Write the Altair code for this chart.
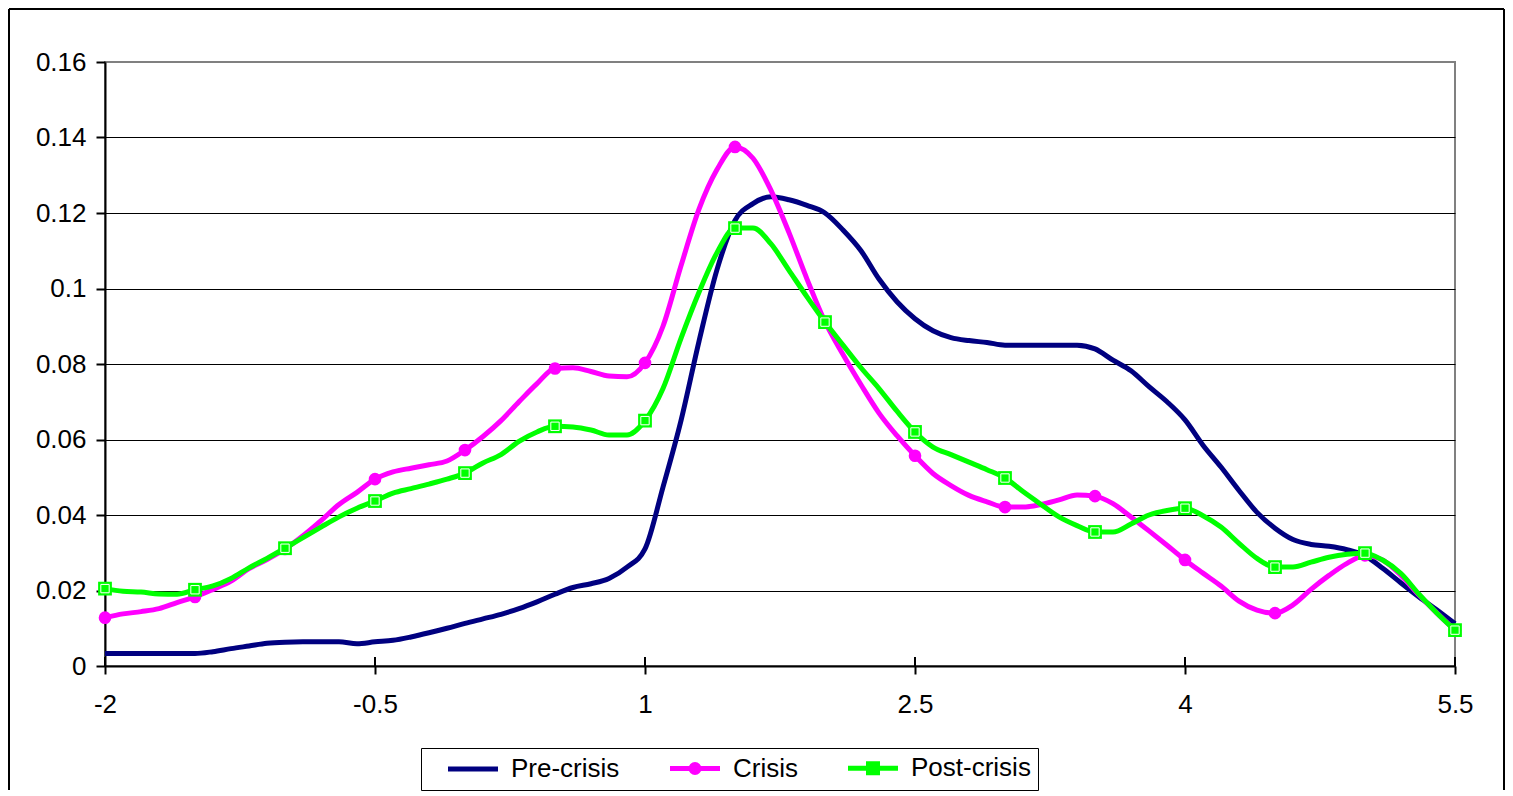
import altair as alt
import pandas as pd
import numpy as np

# sample positions along the x axis (every 0.1 from -2 to 5.5)
x_vals = [round(-2 + 0.1 * i, 1) for i in range(76)]

pre_crisis = [
    0.0033, 0.0033, 0.0033, 0.0033, 0.0033, 0.0033, 0.0038, 0.0046, 0.0053, 0.0060,
    0.0063, 0.0064, 0.0064, 0.0064, 0.0059, 0.0064, 0.0068, 0.0077, 0.0088, 0.0100,
    0.0113, 0.0125, 0.0137, 0.0152, 0.0170, 0.0190, 0.0208, 0.0218, 0.0232, 0.0262,
    0.0310, 0.0474, 0.0650, 0.0860, 0.1050, 0.1180, 0.1225, 0.1243, 0.1235, 0.1220,
    0.1200, 0.1155, 0.1100, 0.1025, 0.0965, 0.0920, 0.0888, 0.0870, 0.0862, 0.0857,
    0.0850, 0.0850, 0.0850, 0.0850, 0.0850, 0.0840, 0.0810, 0.0782, 0.0740, 0.0700,
    0.0652, 0.0585, 0.0527, 0.0465, 0.0407, 0.0365, 0.0335, 0.0322, 0.0317, 0.0308,
    0.0292, 0.0258, 0.0220, 0.0183, 0.0148, 0.0112,
]

crisis = [
    0.0128, 0.0138, 0.0144, 0.0152, 0.0168, 0.0183, 0.0203, 0.0225, 0.0258, 0.0282,
    0.0310, 0.0345, 0.0385, 0.0428, 0.0460, 0.0495, 0.0514, 0.0524, 0.0533, 0.0543,
    0.0572, 0.0608, 0.0650, 0.0700, 0.0748, 0.0788, 0.0790, 0.0780, 0.0768, 0.0766,
    0.0803, 0.0900, 0.1060, 0.1210, 0.1315, 0.1375, 0.1345, 0.1260, 0.1148, 0.1025,
    0.0912, 0.0825, 0.0745, 0.0670, 0.0610, 0.0557, 0.0510, 0.0478, 0.0452, 0.0435,
    0.0421, 0.0421, 0.0428, 0.0440, 0.0453, 0.0450, 0.0430, 0.0395, 0.0358, 0.0320,
    0.0281, 0.0246, 0.0212, 0.0172, 0.0148, 0.0140, 0.0162, 0.0203, 0.0240, 0.0272,
    0.0293, 0.0280, 0.0240, 0.0188, 0.0140, 0.0095,
]

post_crisis = [
    0.0205, 0.0198, 0.0196, 0.0191, 0.0190, 0.0202, 0.0212, 0.0232, 0.0260, 0.0285,
    0.0312, 0.0340, 0.0368, 0.0395, 0.0418, 0.0437, 0.0458, 0.0470, 0.0482, 0.0495,
    0.0511, 0.0538, 0.0560, 0.0595, 0.0620, 0.0635, 0.0633, 0.0625, 0.0612, 0.0612,
    0.0650, 0.0735, 0.0868, 0.0990, 0.1095, 0.1160, 0.1160, 0.1118, 0.1048, 0.0978,
    0.0911, 0.0850, 0.0790, 0.0735, 0.0675, 0.0620, 0.0580, 0.0560, 0.0540, 0.0520,
    0.0498, 0.0462, 0.0428, 0.0395, 0.0372, 0.0355, 0.0355, 0.0376, 0.0400, 0.0412,
    0.0418, 0.0398, 0.0368, 0.0325, 0.0285, 0.0262, 0.0262, 0.0275, 0.0288, 0.0296,
    0.0299, 0.0280, 0.0245, 0.0190, 0.0140, 0.0095,
]

series_names = ["Pre-crisis", "Crisis", "Post-crisis"]
series_colors = ["#000080", "#FF00FF", "#00FF00"]
x_ticks = [-2, -0.5, 1, 2.5, 4, 5.5]
y_ticks = [0, 0.02, 0.04, 0.06, 0.08, 0.1, 0.12, 0.14, 0.16]

PLOT_W = 1350
PLOT_H = 604
FONT = "Liberation Sans"

rows = []
for name, vals in zip(series_names, [pre_crisis, crisis, post_crisis]):
    for xv, yv in zip(x_vals, vals):
        frac = (xv * 2) % 1
        rows.append({"x": xv, "v": yv, "series": name,
                     "marker": bool(np.isclose(frac, 0) or np.isclose(frac, 1))})
df = pd.DataFrame(rows)
ticks_df = pd.DataFrame({"x": x_ticks})
dummy = pd.DataFrame({"k": [0]})

x_scale = alt.Scale(domain=[-2, 5.5], nice=False, zero=False)
y_scale = alt.Scale(domain=[0, 0.16], nice=False)

x_enc = alt.X("x:Q", scale=x_scale, title=None,
              axis=alt.Axis(values=x_ticks, grid=False, labelExpr="toString(datum.value)",
                            labelFontSize=26, labelFont=FONT, labelColor="black",
                            labelPadding=17, tickSize=8, tickWidth=2, tickColor="black",
                            domainColor="black", domainWidth=2, labelFlush=False))
y_enc = alt.Y("v:Q", scale=y_scale, title=None,
              axis=alt.Axis(values=y_ticks, grid=True, labelExpr="toString(datum.value)",
                            gridColor={"condition": {"test": "datum.value >= 0.159", "value": "#808080"},
                                       "value": "black"},
                            gridWidth=1, labelFontSize=26, labelFont=FONT, labelColor="black",
                            labelPadding=10, tickSize=9, tickWidth=2, tickColor="black",
                            domainColor="black", domainWidth=2))

base = alt.Chart(df)

layers = []
for name, col in zip(series_names, series_colors):
    layers.append(
        base.transform_filter(alt.datum.series == name)
        .mark_line(color=col, strokeWidth=5, interpolate="monotone")
        .encode(x=x_enc, y=y_enc)
    )
    if name == "Crisis":
        layers.append(
            base.transform_filter((alt.datum.series == name) & alt.datum.marker)
            .mark_circle(color=col, size=160, opacity=1)
            .encode(x=x_enc, y=y_enc)
        )
    if name == "Post-crisis":
        layers.append(
            base.transform_filter((alt.datum.series == name) & alt.datum.marker)
            .mark_square(color=col, size=190, opacity=1)
            .encode(x=x_enc, y=y_enc)
        )
        layers.append(
            base.transform_filter((alt.datum.series == name) & alt.datum.marker)
            .mark_point(shape="square", filled=False, color="white", strokeWidth=1, size=70, opacity=1)
            .encode(x=x_enc, y=y_enc)
        )

# legend symbols: line with marker, expressed as custom paths
legend_paths = [
    "M1.4,0L11.4,0",
    "M1.4,0L11.4,0M7.2,0A0.8,0.8,0,1,1,5.6,0A0.8,0.8,0,1,1,7.2,0Z",
    "M1.4,0L11.4,0M5.5,-0.9L7.3,-0.9L7.3,0.9L5.5,0.9Z",
]
leg = alt.Legend(orient="none", legendX=316, legendY=686, direction="horizontal", columns=3,
                 title=None, labelFontSize=26, labelFont=FONT, labelColor="black",
                 strokeColor="black", fillColor="white", padding=7, symbolSize=100,
                 symbolStrokeWidth=5, symbolOpacity=1, labelOffset=57, columnPadding=30,
                 labelBaseline="middle")
legend_layer = base.mark_point(opacity=0, filled=False).encode(
    x=x_enc, y=y_enc,
    color=alt.Color("series:N", scale=alt.Scale(domain=series_names, range=series_colors), legend=leg),
    shape=alt.Shape("series:N", scale=alt.Scale(domain=series_names, range=legend_paths), legend=leg),
)

inner_ticks = alt.Chart(ticks_df).mark_rule(color="black", strokeWidth=2).encode(
    x=x_enc, y=alt.value(PLOT_H - 9), y2=alt.value(PLOT_H)
)

frame = alt.Chart(dummy)
border_left = frame.mark_rule(color="black", strokeWidth=2).encode(
    x=alt.value(-96), y=alt.value(-53), y2=alt.value(PLOT_H + 124))
border_right = frame.mark_rule(color="black", strokeWidth=2).encode(
    x=alt.value(1399), y=alt.value(-53), y2=alt.value(PLOT_H + 124))
border_top = frame.mark_rule(color="black", strokeWidth=2).encode(
    x=alt.value(-96), x2=alt.value(1399), y=alt.value(-53))

chart = alt.layer(
    inner_ticks, *layers, legend_layer, border_left, border_right, border_top
).properties(
    width=PLOT_W, height=PLOT_H, padding=0, background="white"
).configure_view(
    stroke="#808080", strokeWidth=2
)

chart.save("out.html", embed_options={"renderer": "svg", "actions": False})
